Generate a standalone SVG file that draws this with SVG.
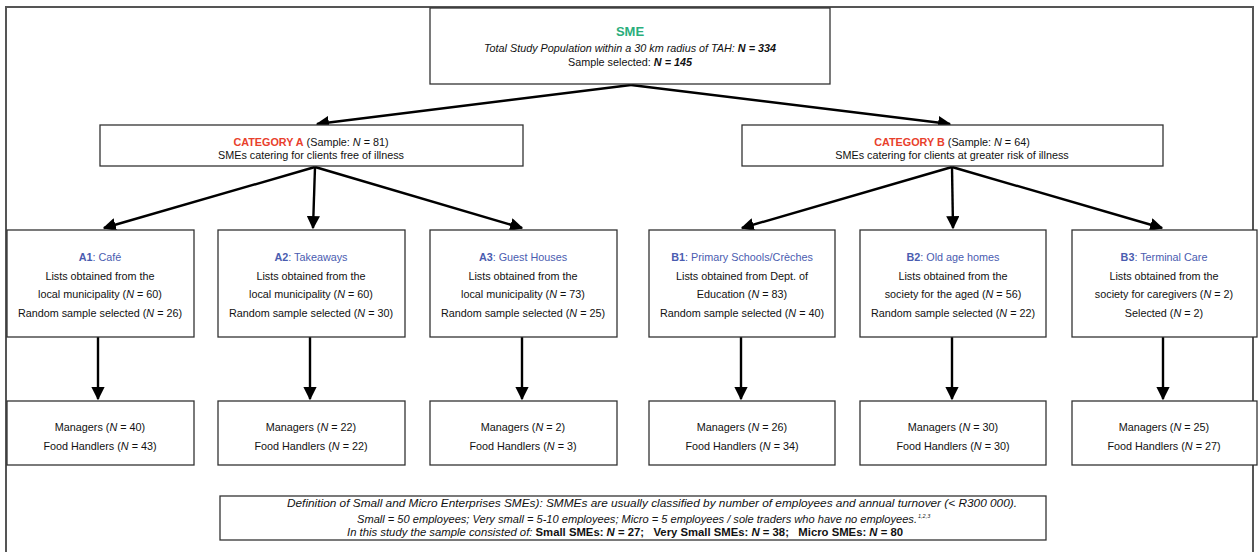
<svg xmlns="http://www.w3.org/2000/svg" width="1260" height="552" viewBox="0 0 1260 552">
<defs>
<marker id="ah" viewBox="0 0 10 10" refX="9" refY="5" markerWidth="5.5" markerHeight="5.5" orient="auto" markerUnits="strokeWidth">
<path d="M0,0 L10,5 L0,10 z" fill="#000"/>
</marker>
<style>
text{font-family:"Liberation Sans",Arial,sans-serif;font-size:10.8px;fill:#111;text-anchor:middle}
.box{fill:#fff;stroke:#333;stroke-width:1.3}
.frame{fill:none;stroke:#555;stroke-width:2}
.con{stroke:#000;stroke-width:2.4;fill:none;marker-end:url(#ah)}
.sme{fill:#2aae7c;font-weight:bold;font-size:13px}
.cat{fill:#e8402c;font-weight:bold}
.lbl{fill:#4a5cb0}
.b{font-weight:bold}
.i{font-style:italic}
.def{font-size:11px;font-style:italic}
.sup{font-size:5.5px;font-style:italic;text-anchor:start}
</style>
</defs>
<rect class="frame" x="6" y="7" width="1247" height="560"/>

<g id="connectors">
<line class="con" x1="631" y1="85" x2="317" y2="124"/>
<line class="con" x1="631" y1="85" x2="950" y2="124"/>
<line class="con" x1="315" y1="167" x2="104" y2="228"/>
<line class="con" x1="315" y1="167" x2="313" y2="228"/>
<line class="con" x1="315" y1="167" x2="522" y2="228"/>
<line class="con" x1="952" y1="167" x2="742" y2="228"/>
<line class="con" x1="952" y1="167" x2="953" y2="228"/>
<line class="con" x1="952" y1="167" x2="1162" y2="228"/>
<line class="con" x1="98" y1="337" x2="98" y2="399"/>
<line class="con" x1="310" y1="337" x2="310" y2="399"/>
<line class="con" x1="522" y1="337" x2="522" y2="399"/>
<line class="con" x1="741" y1="337" x2="741" y2="399"/>
<line class="con" x1="952" y1="337" x2="952" y2="399"/>
<line class="con" x1="1163" y1="337" x2="1163" y2="399"/>
</g>

<g id="sme">
<rect class="box" x="430" y="8" width="400" height="76"/>
<text x="630" y="36" class="sme">SME</text>
<text x="630" y="52" class="i">Total Study Population within a 30 km radius of TAH: <tspan class="b">N = 334</tspan></text>
<text x="630" y="66">Sample selected: <tspan class="b i">N = 145</tspan></text>
</g>

<g id="catA">
<rect class="box" x="100" y="125" width="423" height="41"/>
<text x="311" y="146"><tspan class="cat">CATEGORY A</tspan> (Sample: <tspan class="i">N</tspan> = 81)</text>
<text x="311" y="159">SMEs catering for clients free of illness</text>
</g>

<g id="catB">
<rect class="box" x="742" y="125" width="421" height="41"/>
<text x="952" y="146"><tspan class="cat">CATEGORY B</tspan> (Sample: <tspan class="i">N</tspan> = 64)</text>
<text x="952" y="159">SMEs catering for clients at greater risk of illness</text>
</g>

<g id="A1">
<rect class="box" x="7" y="230" width="187" height="107"/>
<text x="100" y="261" class="lbl"><tspan class="b">A1</tspan>: Café</text>
<text x="100" y="280">Lists obtained from the</text>
<text x="100" y="298">local municipality (<tspan class="i">N</tspan> = 60)</text>
<text x="100" y="317">Random sample selected (<tspan class="i">N</tspan> = 26)</text>
</g>

<g id="A2">
<rect class="box" x="218" y="230" width="187" height="107"/>
<text x="311" y="261" class="lbl"><tspan class="b">A2</tspan>: Takeaways</text>
<text x="311" y="280">Lists obtained from the</text>
<text x="311" y="298">local municipality (<tspan class="i">N</tspan> = 60)</text>
<text x="311" y="317">Random sample selected (<tspan class="i">N</tspan> = 30)</text>
</g>

<g id="A3">
<rect class="box" x="430" y="230" width="187" height="107"/>
<text x="523" y="261" class="lbl"><tspan class="b">A3</tspan>: Guest Houses</text>
<text x="523" y="280">Lists obtained from the</text>
<text x="523" y="298">local municipality (<tspan class="i">N</tspan> = 73)</text>
<text x="523" y="317">Random sample selected (<tspan class="i">N</tspan> = 25)</text>
</g>

<g id="B1">
<rect class="box" x="649" y="230" width="186" height="107"/>
<text x="742" y="261" class="lbl"><tspan class="b">B1</tspan>: Primary Schools/Crèches</text>
<text x="742" y="280">Lists obtained from Dept. of</text>
<text x="742" y="298">Education (<tspan class="i">N</tspan> = 83)</text>
<text x="742" y="317">Random sample selected (<tspan class="i">N</tspan> = 40)</text>
</g>

<g id="B2">
<rect class="box" x="860" y="230" width="186" height="107"/>
<text x="953" y="261" class="lbl"><tspan class="b">B2</tspan>: Old age homes</text>
<text x="953" y="280">Lists obtained from the</text>
<text x="953" y="298">society for the aged (<tspan class="i">N</tspan> = 56)</text>
<text x="953" y="317">Random sample selected (<tspan class="i">N</tspan> = 22)</text>
</g>

<g id="B3">
<rect class="box" x="1072" y="230" width="185" height="107"/>
<text x="1164" y="261" class="lbl"><tspan class="b">B3</tspan>: Terminal Care</text>
<text x="1164" y="280">Lists obtained from the</text>
<text x="1164" y="298">society for caregivers (<tspan class="i">N</tspan> = 2)</text>
<text x="1164" y="317">Selected (<tspan class="i">N</tspan> = 2)</text>
</g>

<g id="A1m">
<rect class="box" x="7" y="401" width="187" height="64"/>
<text x="100" y="431">Managers (<tspan class="i">N</tspan> = 40)</text>
<text x="100" y="450">Food Handlers (<tspan class="i">N</tspan> = 43)</text>
</g>
<g id="A2m">
<rect class="box" x="218" y="401" width="187" height="64"/>
<text x="311" y="431">Managers (<tspan class="i">N</tspan> = 22)</text>
<text x="311" y="450">Food Handlers (<tspan class="i">N</tspan> = 22)</text>
</g>
<g id="A3m">
<rect class="box" x="430" y="401" width="187" height="64"/>
<text x="523" y="431">Managers (<tspan class="i">N</tspan> = 2)</text>
<text x="523" y="450">Food Handlers (<tspan class="i">N</tspan> = 3)</text>
</g>
<g id="B1m">
<rect class="box" x="649" y="401" width="186" height="64"/>
<text x="742" y="431">Managers (<tspan class="i">N</tspan> = 26)</text>
<text x="742" y="450">Food Handlers (<tspan class="i">N</tspan> = 34)</text>
</g>
<g id="B2m">
<rect class="box" x="860" y="401" width="186" height="64"/>
<text x="953" y="431">Managers (<tspan class="i">N</tspan> = 30)</text>
<text x="953" y="450">Food Handlers (<tspan class="i">N</tspan> = 30)</text>
</g>
<g id="B3m">
<rect class="box" x="1072" y="401" width="185" height="64"/>
<text x="1164" y="431">Managers (<tspan class="i">N</tspan> = 25)</text>
<text x="1164" y="450">Food Handlers (<tspan class="i">N</tspan> = 27)</text>
</g>

<g id="definition">
<rect class="box" x="220" y="496" width="826" height="44"/>
<text x="652" y="507" class="def" textLength="730" lengthAdjust="spacingAndGlyphs">Definition of Small and Micro Enterprises SMEs): SMMEs are usually classified by number of employees and annual turnover (&lt; R300 000).</text>
<text x="637" y="523" class="def" textLength="560" lengthAdjust="spacingAndGlyphs">Small = 50 employees; Very small = 5-10 employees; Micro = 5 employees / sole traders who have no employees.</text>
<text x="918" y="518" class="sup">1,2,3</text>
<text x="625" y="536" class="def" xml:space="preserve" textLength="556" lengthAdjust="spacingAndGlyphs">In this study the sample consisted of: <tspan class="b" font-style="normal">Small SMEs: <tspan class="i">N</tspan> = 27;   Very Small SMEs: <tspan class="i">N</tspan> = 38;   Micro SMEs: <tspan class="i">N</tspan> = 80</tspan></text>
</g>
</svg>
